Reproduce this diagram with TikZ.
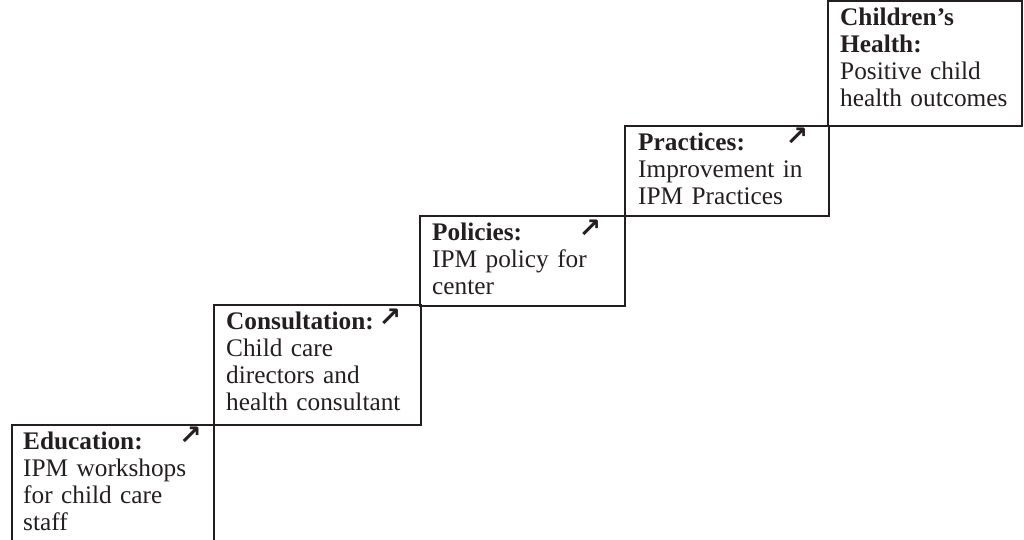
\documentclass[tikz,border=0pt]{standalone}
\usepackage{fontspec}
\setmainfont{Liberation Serif}
\newfontfamily\symfont{DejaVu Sans}
\definecolor{ink}{RGB}{35,31,32}
\begin{document}
\begin{tikzpicture}[x=1pt,y=-1pt,
  stepcell/.style={draw=ink, line width=1.6pt, outer sep=0pt, inner sep=0pt,
    anchor=north west, rectangle},
  celltext/.style={text=ink, font=\fontsize{25.3}{27}\selectfont, text width=190pt,
    align=left, inner sep=0pt, anchor=north west},
  uparrow/.style={text=ink, font=\symfont\bfseries\fontsize{27}{27}\selectfont, inner sep=0pt,
    anchor=center}]
\useasboundingbox (0,0) rectangle (1024,540);

% the five steps of the staircase
\node[stepcell, minimum width=202pt, minimum height=135pt] (edu)  at (12,425)  {};
\node[stepcell, minimum width=207pt, minimum height=120pt] (cons) at (214,305) {};
\node[stepcell, minimum width=205pt, minimum height=90pt]  (pol)  at (420,216) {};
\node[stepcell, minimum width=204pt, minimum height=90pt]  (prac) at (625,126) {};
\node[stepcell, minimum width=194pt, minimum height=125pt] (kids) at (828,1)   {};

% step texts
\node[celltext] (edutext)  at ([shift={(11,5)}]edu.north west)
  {\strut\textbf{Education:}\\IPM workshops\\for child care\\staff};
\node[celltext] (constext) at ([shift={(12,5)}]cons.north west)
  {\strut\textbf{Consultation:}\\Child care\\directors and\\health consultant};
\node[celltext] (poltext)  at ([shift={(12,5)}]pol.north west)
  {\strut\textbf{Policies:}\\IPM policy for\\center};
\node[celltext] (practext) at ([shift={(13,5)}]prac.north west)
  {\strut\textbf{Practices:}\\Improvement in\\IPM Practices};
\node[celltext] (kidstext) at ([shift={(12,5)}]kids.north west)
  {\strut\textbf{Children’s}\\\textbf{Health:}\\Positive child\\health outcomes};

% upward arrows
\node[uparrow] (eduarrow)  at ([shift={(-23.5,11)}]edu.north east)  {↗};
\node[uparrow] (consarrow) at ([shift={(-31,13)}]cons.north east) {↗};
\node[uparrow] (polarrow)  at ([shift={(-35,13)}]pol.north east)  {↗};
\node[uparrow] (pracarrow) at ([shift={(-32,11)}]prac.north east) {↗};
\end{tikzpicture}
\end{document}
